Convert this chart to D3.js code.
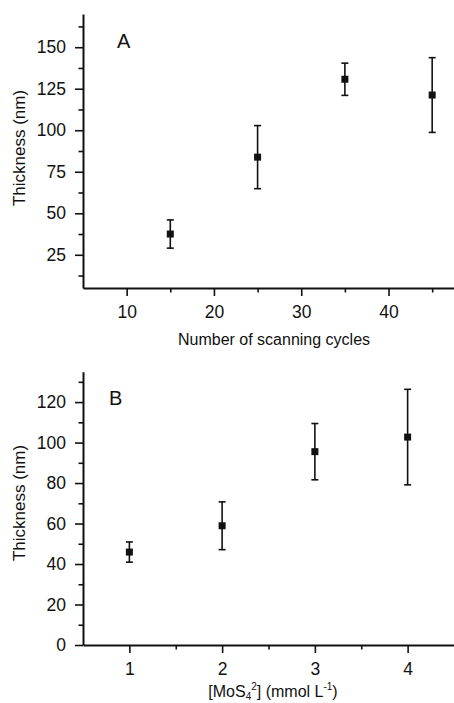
<!DOCTYPE html>
<html>
<head>
<meta charset="utf-8">
<script src="https://cdn.jsdelivr.net/npm/d3@7"></script>
<style>
  body { margin: 0; background: #fff; }
  svg { display: block; font-family: Arial, "Liberation Sans", sans-serif; }
  .axis path, .axis line { stroke: #111; }
</style>
</head>
<body>
<svg id="chart" width="454" height="703"></svg>
<script>
// panel A data: thickness vs number of scanning cycles
const cycles = [15, 25, 35, 45];
const thick_a = [37.5, 83.8, 130.7, 121.2];
const err_a = [8.5, 19, 9.7, 22.5];
const a_x_ticks = [10, 20, 30, 40];
const a_x_minor = [15, 25, 35, 45];
const a_y_ticks = [25, 50, 75, 100, 125, 150];
const a_y_minor = [12.5, 37.5, 62.5, 87.5, 112.5, 137.5, 162.5];

// panel B data: thickness vs MoS4 concentration
const conc = [1, 2, 3, 4];
const thick_b = [45.9, 58.9, 95.5, 102.7];
const err_b = [5, 11.8, 13.9, 23.6];
const b_x_ticks = [1, 2, 3, 4];
const b_x_minor = [1.5, 2.5, 3.5];
const b_y_ticks = [0, 20, 40, 60, 80, 100, 120];
const b_y_minor = [10, 30, 50, 70, 90, 110, 130];

var svg = d3.select("#chart");

function drawPanel(opts) {
  var g = svg.append("g");

  var x = d3.scaleLinear().domain(opts.x_domain).range([83, 454]);
  var y = d3.scaleLinear().domain(opts.y_domain).range(opts.y_range);
  var y0 = opts.y_range[0];

  // minor ticks first (no labels)
  g.append("g")
    .attr("class", "axis")
    .attr("transform", "translate(0," + y0 + ")")
    .call(d3.axisBottom(x).tickValues(opts.x_minor).tickSize(4.5).tickSizeOuter(0).tickFormat(""))
    .call(function (s) { s.select(".domain").remove(); })
    .selectAll("line").attr("stroke-width", 1.6);

  g.append("g")
    .attr("class", "axis")
    .attr("transform", "translate(83,0)")
    .call(d3.axisLeft(y).tickValues(opts.y_minor).tickSize(4.5).tickSizeOuter(0).tickFormat(""))
    .call(function (s) { s.select(".domain").remove(); })
    .selectAll("line").attr("stroke-width", 1.6);

  // major axes
  var xa = g.append("g")
    .attr("class", "axis")
    .attr("transform", "translate(0," + y0 + ")")
    .call(d3.axisBottom(x).tickValues(opts.x_ticks).tickSize(8).tickSizeOuter(0)
      .tickPadding(10).tickFormat(d3.format("d")));
  xa.select(".domain").attr("stroke-width", 2);
  xa.selectAll("line").attr("stroke-width", 1.6);

  var ya = g.append("g")
    .attr("class", "axis")
    .attr("transform", "translate(83,0)")
    .call(d3.axisLeft(y).tickValues(opts.y_ticks).tickSize(8).tickSizeOuter(0)
      .tickPadding(9).tickFormat(d3.format("d")));
  ya.select(".domain").attr("stroke-width", 2);
  ya.selectAll("line").attr("stroke-width", 1.6);

  g.selectAll(".axis").attr("font-family", null).attr("font-size", 17.5);
  g.selectAll(".axis text").attr("fill", "#111");

  // error bars
  var pts = opts.xs.map(function (d, i) {
    return { x: d, y: opts.ys[i], e: opts.errs[i] };
  });

  var bars = g.append("g").selectAll(null).data(pts).enter().append("g");
  bars.append("line")
    .attr("x1", function (d) { return x(d.x); })
    .attr("x2", function (d) { return x(d.x); })
    .attr("y1", function (d) { return y(d.y + d.e); })
    .attr("y2", function (d) { return y(d.y - d.e); })
    .attr("stroke", "#111").attr("stroke-width", 1.6);
  [1, -1].forEach(function (s) {
    bars.append("line")
      .attr("x1", function (d) { return x(d.x) - 3.5; })
      .attr("x2", function (d) { return x(d.x) + 3.5; })
      .attr("y1", function (d) { return y(d.y + s * d.e); })
      .attr("y2", function (d) { return y(d.y + s * d.e); })
      .attr("stroke", "#111").attr("stroke-width", 1.6);
  });

  // square markers
  g.append("g").selectAll(null).data(pts).enter().append("rect")
    .attr("x", function (d) { return x(d.x) - 3.5; })
    .attr("y", function (d) { return y(d.y) - 3.5; })
    .attr("width", 7).attr("height", 7)
    .attr("fill", "#111");

  // panel letter
  g.append("text")
    .attr("x", opts.letter_pos[0]).attr("y", opts.letter_pos[1])
    .attr("font-size", 20).attr("fill", "#111")
    .text(opts.letter);

  // y title
  g.append("text")
    .attr("transform", "translate(25," + opts.y_title_mid + ") rotate(-90)")
    .attr("text-anchor", "middle")
    .attr("font-size", 17).attr("fill", "#111")
    .text("Thickness (nm)");

  return { g: g, y0: y0 };
}

var pa = drawPanel({
  x_domain: [5, 47.5], y_domain: [5, 170], y_range: [288, 14],
  xs: cycles, ys: thick_a, errs: err_a,
  x_ticks: a_x_ticks, x_minor: a_x_minor, y_ticks: a_y_ticks, y_minor: a_y_minor,
  letter: "A", letter_pos: [117, 48], y_title_mid: 148
});

pa.g.append("text")
  .attr("x", 274).attr("y", 345)
  .attr("text-anchor", "middle")
  .attr("font-size", 16).attr("fill", "#111")
  .text("Number of scanning cycles");

var pb = drawPanel({
  x_domain: [0.5, 4.5], y_domain: [0, 135], y_range: [645, 371.7],
  xs: conc, ys: thick_b, errs: err_b,
  x_ticks: b_x_ticks, x_minor: b_x_minor, y_ticks: b_y_ticks, y_minor: b_y_minor,
  letter: "B", letter_pos: [109, 405], y_title_mid: 503
});

// x title for panel B with sub/superscripts
var tb = pb.g.append("text")
  .attr("x", 273).attr("y", 697)
  .attr("text-anchor", "middle")
  .attr("font-size", 16).attr("fill", "#111");
tb.append("tspan").text("[MoS");
tb.append("tspan").attr("font-size", 10).attr("dy", 3).text("4");
tb.append("tspan").attr("font-size", 10).attr("dy", -10).text("2");
tb.append("tspan").attr("dy", 7).text("] (mmol L");
tb.append("tspan").attr("font-size", 10).attr("dy", -7).text("-1");
tb.append("tspan").attr("dy", 7).text(")");
</script>
</body>
</html>
